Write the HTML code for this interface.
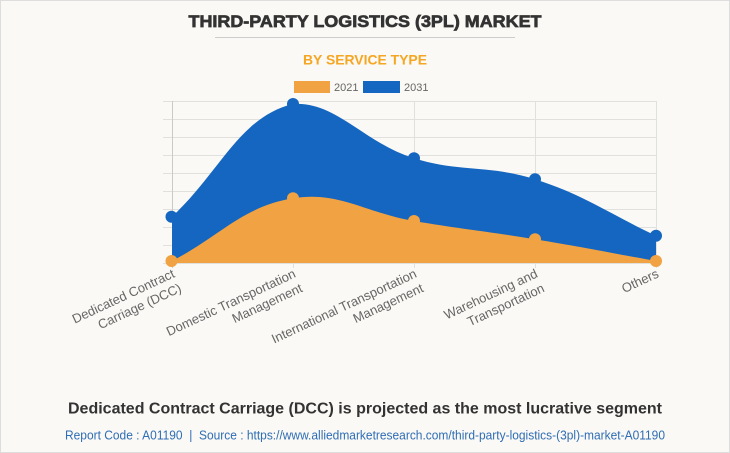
<!DOCTYPE html>
<html><head><meta charset="utf-8"><style>
html,body{margin:0;padding:0;background:#faf9f5;}
svg{display:block;}
text{font-family:"Liberation Sans",Arial,sans-serif;}
</style></head><body>
<svg width="730" height="453" viewBox="0 0 730 453" xmlns="http://www.w3.org/2000/svg">
<rect x="0.5" y="0.5" width="729" height="452" fill="#faf9f5" stroke="#dddddd"/>
<text x="365" y="27" text-anchor="middle" font-size="17" font-weight="bold" fill="#333" stroke="#333" stroke-width="0.7" textLength="353" lengthAdjust="spacingAndGlyphs">THIRD-PARTY LOGISTICS (3PL) MARKET</text>
<line x1="215" y1="37.5" x2="515" y2="37.5" stroke="#cccccc" stroke-width="1"/>
<text x="365" y="64.5" text-anchor="middle" font-size="14" font-weight="bold" fill="#f5a623" textLength="124" lengthAdjust="spacingAndGlyphs">BY SERVICE TYPE</text>
<!-- legend -->
<rect x="294" y="81" width="36" height="12" fill="#f1a242"/>
<text x="334" y="91" font-size="11" fill="#666">2021</text>
<rect x="363" y="81" width="37" height="12" fill="#1466c0"/>
<text x="404" y="91" font-size="11" fill="#666">2031</text>
<!-- grid -->
<g stroke="#e0e0dd" stroke-width="1">
<line x1="163" y1="101.5" x2="657" y2="101.5"/>
<line x1="163" y1="119.5" x2="657" y2="119.5"/>
<line x1="163" y1="137.5" x2="657" y2="137.5"/>
<line x1="163" y1="155.5" x2="657" y2="155.5"/>
<line x1="163" y1="173.5" x2="657" y2="173.5"/>
<line x1="163" y1="191.5" x2="657" y2="191.5"/>
<line x1="163" y1="209.5" x2="657" y2="209.5"/>
<line x1="163" y1="227.5" x2="657" y2="227.5"/>
<line x1="163" y1="245.5" x2="657" y2="245.5"/>
<line x1="163" y1="263.5" x2="657" y2="263.5"/>
<line x1="293.5" y1="101" x2="293.5" y2="268"/>
<line x1="414.5" y1="101" x2="414.5" y2="268"/>
<line x1="535.5" y1="101" x2="535.5" y2="268"/>
<line x1="656.5" y1="101" x2="656.5" y2="268"/>
</g>
<line x1="172.5" y1="101" x2="172.5" y2="268" stroke="#cacac7" stroke-width="1"/>
<!-- series -->
<path d="M172,216.7 C220.4,171.6 239.3,117.0 293,104 C336.1,101 363.7,142.7 414,158.3 C460.5,172.8 488.6,164.5 535,179.3 C585.4,195.4 607.6,213.1 656,235.7 L656,263 L172,263 Z" fill="#1466c0"/>
<path d="M172,261 C220.4,235.9 242.1,206.7 293,198.3 C338.9,190.7 365.5,212.8 414,221 C462.3,229.2 486.7,231.3 535,239.3 C583.5,247.3 607.6,252.3 656,261 L656,263 L172,263 Z" fill="#f1a242"/>
<g fill="#1466c0">
<circle cx="171.5" cy="216.7" r="6"/>
<circle cx="293" cy="104" r="6"/>
<circle cx="414" cy="158.3" r="6"/>
<circle cx="535" cy="179.3" r="6"/>
<circle cx="656" cy="235.7" r="6"/>
</g>
<g fill="#f1a242">
<circle cx="171.5" cy="261" r="6"/>
<circle cx="293" cy="198.3" r="6"/>
<circle cx="414" cy="221" r="6"/>
<circle cx="535" cy="239.3" r="6"/>
<circle cx="656" cy="261" r="6"/>
</g>
<!-- x labels -->
<g font-size="13" fill="#666" text-anchor="end">
<g transform="translate(172,269) rotate(-25)"><text x="0" y="8.5">Dedicated Contract</text><text x="0" y="24.5">Carriage (DCC)</text></g>
<g transform="translate(293,269) rotate(-25)"><text x="0" y="8.5">Domestic Transportation</text><text x="0" y="24.5">Management</text></g>
<g transform="translate(414,269) rotate(-25)"><text x="0" y="8.5">International Transportation</text><text x="0" y="24.5">Management</text></g>
<g transform="translate(535,269) rotate(-25)"><text x="0" y="8.5">Warehousing and</text><text x="0" y="24.5">Transportation</text></g>
<g transform="translate(656,269) rotate(-25)"><text x="0" y="8.5">Others</text></g>
</g>
<!-- footer -->
<text x="365" y="413.3" text-anchor="middle" font-size="16" font-weight="bold" fill="#333" textLength="594" lengthAdjust="spacingAndGlyphs">Dedicated Contract Carriage (DCC) is projected as the most lucrative segment</text>
<text x="365" y="439.3" text-anchor="middle" font-size="12.5" fill="#2f6db5" textLength="600" lengthAdjust="spacingAndGlyphs">Report Code : A01190 &#160;| &#160;Source : https://www.alliedmarketresearch.com/third-party-logistics-(3pl)-market-A01190</text>
</svg>
</body></html>
